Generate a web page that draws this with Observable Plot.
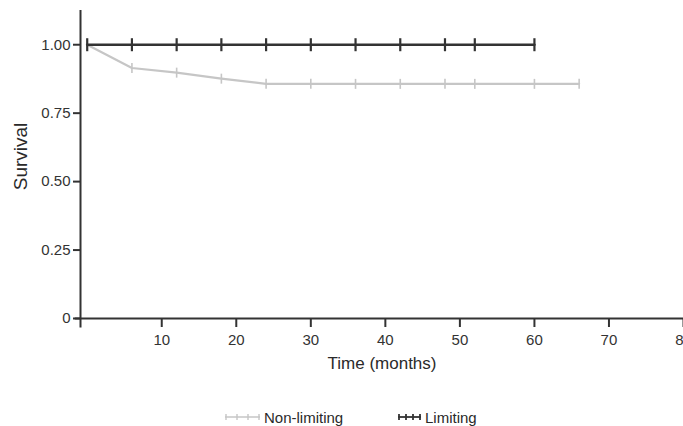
<!DOCTYPE html>
<html><head><meta charset="utf-8">
<script src="https://cdn.jsdelivr.net/npm/d3@7"></script>
<script src="https://cdn.jsdelivr.net/npm/@observablehq/plot@0.6"></script>
<style>
body{margin:0;background:#fff;font-family:"Liberation Sans",Arial,sans-serif;color:#333;}
#chart{width:683px;height:395px;}
#legend{position:relative;width:683px;height:31px;font-size:15px;color:#2a2a2a;}
#legend .item{position:absolute;top:13px;display:flex;align-items:center;height:18px;}
#legend svg{margin-right:3px;}
#chart svg g[aria-label="x-axis tick"] path,#chart svg g[aria-label="y-axis tick"] path{stroke-width:2;}
</style></head><body>
<div id="chart"></div>
<div id="legend"></div>
<script>
// ---- data ----
const groups = ["Non-limiting", "Limiting"];
const nonLimitingTime = [0, 6, 12, 18, 24, 30, 36, 42, 48, 52, 60, 66];
const nonLimitingSurv = [1.0, 0.915, 0.898, 0.876, 0.857, 0.857, 0.857, 0.857, 0.857, 0.857, 0.857, 0.857];
const nonLimitingCensor = [6, 12, 18, 24, 30, 36, 42, 48, 52, 60, 66];
const limitingTime = [0, 6, 12, 18, 24, 30, 36, 42, 48, 52, 60];
const limitingSurv = [1, 1, 1, 1, 1, 1, 1, 1, 1, 1, 1];
const limitingCensor = [0, 6, 12, 18, 24, 30, 36, 42, 48, 52, 60];
const xTicks = [10, 20, 30, 40, 50, 60, 70, 80];
const yTicks = [0, 0.25, 0.5, 0.75, 1];
const yTickLabels = ["0", "0.25", "0.50", "0.75", "1.00"];
const xLabel = "Time (months)";
const yLabel = "Survival";

// ---- tables ----
const nonLim = nonLimitingTime.map((t, i) => ({t, s: nonLimitingSurv[i]}));
const lim = limitingTime.map((t, i) => ({t, s: limitingSurv[i]}));
const survAt = (times, survs, t) => { let s = survs[0]; times.forEach((tt, i) => { if (tt <= t) s = survs[i]; }); return s; };
const nonLimC = nonLimitingCensor.map(t => ({t, s: survAt(nonLimitingTime, nonLimitingSurv, t)}));
const limC = limitingCensor.map(t => ({t, s: survAt(limitingTime, limitingSurv, t)}));

const vbar = h => ({draw(ctx) { ctx.moveTo(0, -h); ctx.lineTo(0, h); }});
const dark = "#333", light = "#c6c6c6";

const chart = Plot.plot({
  width: 683, height: 395,
  marginLeft: 80, marginRight: 0, marginTop: 10, marginBottom: 77,
  style: {fontSize: "15px", fontFamily: "Liberation Sans, Arial, sans-serif", color: "#333", background: "#fff"},
  x: {domain: [-0.9, 80], ticks: xTicks, tickSize: 9, tickPadding: 7, label: null},
  y: {domain: [0, 1.125], ticks: yTicks, tickFormat: d => yTickLabels[yTicks.indexOf(d)], tickSize: 7, tickPadding: 3, label: null},
  marks: [
    Plot.ruleY([0], {x1: -1.6, x2: 80, stroke: dark, strokeWidth: 2}),
    Plot.ruleX([-0.9], {y1: -0.035, y2: 1.125, stroke: dark, strokeWidth: 2}),
    Plot.line(nonLim, {x: "t", y: "s", stroke: light, strokeWidth: 2.2}),
    Plot.dot(nonLimC, {x: "t", y: "s", symbol: vbar(5), stroke: light, strokeWidth: 1.6, fill: "none"}),
    Plot.line(lim, {x: "t", y: "s", stroke: dark, strokeWidth: 2.6}),
    Plot.dot(limC, {x: "t", y: "s", symbol: vbar(6.5), stroke: dark, strokeWidth: 2.2, fill: "none"}),
    Plot.text([xLabel], {frameAnchor: "bottom", dy: 50, fontSize: 17, fill: "#2a2a2a"}),
    Plot.text([yLabel], {frameAnchor: "left", textAnchor: "middle", rotate: -90, dx: -60, dy: -8, fontSize: 19, fill: "#2a2a2a"})
  ]
});
document.getElementById("chart").appendChild(chart);

// ---- legend ----
const legend = document.getElementById("legend");
const specs = [
  {name: groups[0], color: light, left: 225, w: 35, sw: 1.4},
  {name: groups[1], color: dark, left: 398, w: 23, sw: 1.8}
];
specs.forEach(sp => {
  const item = document.createElement("div");
  item.className = "item";
  item.style.left = sp.left + "px";
  const n = 4, step = (sp.w - 2) / (n - 1);
  let ticks = "";
  for (let i = 0; i < n; i++) { const x = 1 + i * step; ticks += `<line x1="${x}" x2="${x}" y1="6" y2="12" stroke="${sp.color}" stroke-width="${sp.sw}"/>`; }
  item.innerHTML = `<svg width="${sp.w}" height="18"><line x1="0" x2="${sp.w}" y1="9" y2="9" stroke="${sp.color}" stroke-width="${sp.sw}"/>${ticks}</svg><span style="margin-left:1px">${sp.name}</span>`;
  legend.appendChild(item);
});
</script>
</body></html>
